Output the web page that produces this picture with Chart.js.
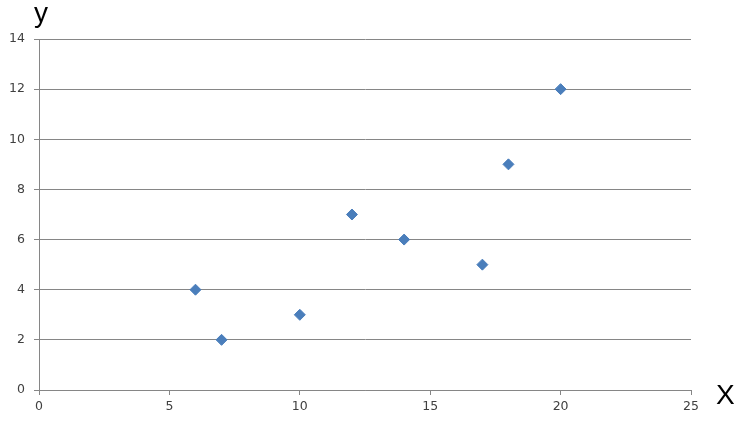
<!DOCTYPE html>
<html><head><meta charset="utf-8">
<script src="https://cdn.jsdelivr.net/npm/chart.js@4"></script>
<style>html,body{margin:0;padding:0;background:#fff}</style>
</head><body>
<canvas id="c" width="750" height="425"></canvas>
<script>
const xValues = [6, 7, 10, 12, 14, 17, 18, 20];
const yValues = [4, 2, 3, 7, 6, 5, 9, 12];
const xTicks = [0, 5, 10, 15, 20, 25];
const yTicks = [0, 2, 4, 6, 8, 10, 12, 14];
const xLabel = 'X';
const yLabel = 'y';

const points = xValues.map((x, i) => ({x: x, y: yValues[i]}));

const axisTitles = {
  id: 'axisTitles',
  afterDraw(chart) {
    const ctx = chart.ctx;
    ctx.save();
    ctx.fillStyle = '#000';
    ctx.font = '28px "Liberation Sans", Arial, sans-serif';
    ctx.textBaseline = 'alphabetic';
    ctx.textAlign = 'left';
    ctx.fillText(yLabel, 34, 22);
    ctx.fillText(xLabel, 716, 404);
    ctx.restore();
  }
};

new Chart(document.getElementById('c'), {
  type: 'scatter',
  data: {
    datasets: [{
      data: points,
      pointStyle: 'rectRot',
      pointRadius: 5.5,
      pointHoverRadius: 5.5,
      backgroundColor: '#4A7EBB',
      borderColor: '#4A7EBB',
      borderWidth: 1
    }]
  },
  options: {
    responsive: false,
    animation: false,
    events: [],
    layout: {padding: {left: 0, top: 39, right: 59, bottom: 0}},
    plugins: {legend: {display: false}, tooltip: {enabled: false}},
    scales: {
      x: {
        type: 'linear',
        min: 0, max: 25,
        afterBuildTicks(s) { s.ticks = xTicks.map(v => ({value: v})); },
        afterFit(s) { s.height = 35; },
        grid: {drawOnChartArea: false, drawTicks: true, tickLength: 5, color: '#868686'},
        border: {color: '#868686', width: 1},
        ticks: {color: '#404040', padding: 4, font: {family: '"DejaVu Sans", sans-serif', size: 12.5}}
      },
      y: {
        type: 'linear',
        min: 0, max: 14,
        afterBuildTicks(s) { s.ticks = yTicks.map(v => ({value: v})); },
        afterFit(s) { s.width = 39; },
        grid: {drawOnChartArea: true, drawTicks: true, tickLength: 5, color: '#868686'},
        border: {color: '#868686', width: 1},
        ticks: {color: '#404040', padding: 9, font: {family: '"DejaVu Sans", sans-serif', size: 12.5}}
      }
    }
  },
  plugins: [axisTitles]
});
</script>
</body></html>
